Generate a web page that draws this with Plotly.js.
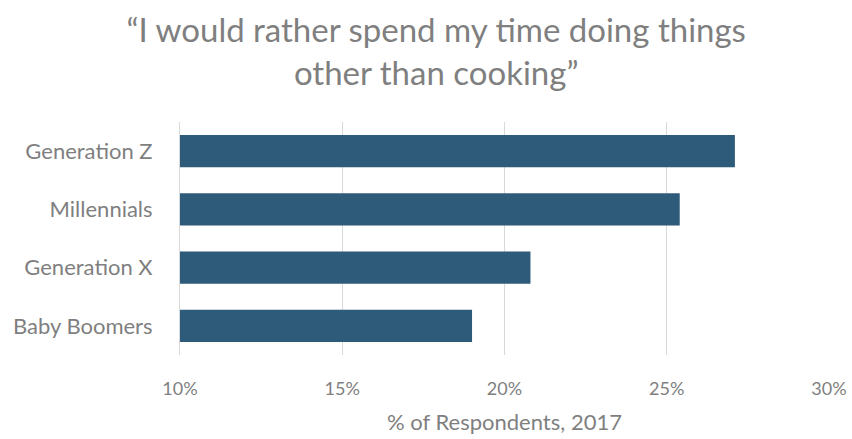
<!DOCTYPE html>
<html>
<head>
<meta charset="utf-8">
<script src="https://cdn.plot.ly/plotly-3.0.1.min.js"></script>
<style>html,body{margin:0;padding:0;background:#fff;}#chart{width:852px;height:439px;}</style>
</head>
<body>
<div id="chart"></div>
<script>
const categories = ["Generation Z", "Millennials", "Generation X", "Baby Boomers"];
const values = [27.1, 25.4, 20.8, 19.0];
const tickValues = [10, 15, 20, 25, 30];
const tickLabels = ["10%", "15%", "20%", "25%", "30%"];

const trace = {
  type: "bar",
  orientation: "h",
  y: categories,
  x: values.map(v => v - 10),
  base: 10,
  marker: {color: "#2f5b7a"},
  hoverinfo: "none"
};

const layout = {
  width: 852,
  height: 439,
  margin: {l: 180, r: 23, t: 122, b: 84},
  paper_bgcolor: "#ffffff",
  plot_bgcolor: "#ffffff",
  font: {family: "Lato, 'Open Sans', sans-serif", color: "#7f7f7f"},
  title: {
    text: "\u201cI would rather spend my time doing things<br>other than cooking\u201d",
    font: {size: 33, color: "#7f7f7f", family: "Lato, 'Open Sans', sans-serif"},
    x: 0.512, xanchor: "center",
    y: 0.905, yanchor: "middle"
  },
  bargap: 0.45,
  showlegend: false,
  xaxis: {
    range: [10, 30],
    tickvals: tickValues,
    ticktext: tickLabels,
    showgrid: true,
    gridcolor: "#d9d9d9",
    gridwidth: 1,
    zeroline: false,
    showline: false,
    ticks: "",
    ticklabelstandoff: 21,
    tickfont: {size: 18, color: "#7f7f7f"},
    title: {text: "% of Respondents, 2017", font: {size: 22, color: "#7f7f7f"}, standoff: 16},
    fixedrange: true
  },
  yaxis: {
    autorange: "reversed",
    showgrid: false,
    showline: true,
    linecolor: "#d9d9d9",
    linewidth: 1,
    ticks: "",
    ticklabelstandoff: 22,
    tickfont: {size: 22, color: "#7f7f7f"},
    fixedrange: true
  }
};

Plotly.newPlot("chart", [trace], layout, {displayModeBar: false, staticPlot: true});
</script>
</body>
</html>
